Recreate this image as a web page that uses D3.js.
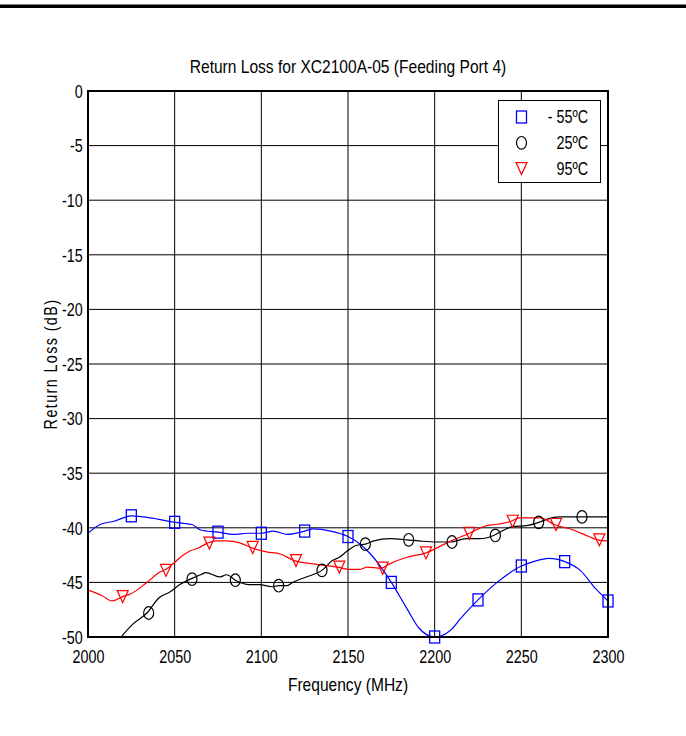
<!DOCTYPE html>
<html><head><meta charset="utf-8">
<script src="https://cdn.jsdelivr.net/npm/d3@7"></script>
<style>body{margin:0;background:#fff}</style>
</head><body><div id="chart"></div>
<script>
// ---- data ----
const chartTitle = "Return Loss for XC2100A-05 (Feeding Port 4)";
const xLabel = "Frequency (MHz)";
const yLabel = "Return Loss (dB)";
const xTicks = [2000, 2050, 2100, 2150, 2200, 2250, 2300];
const yTicks = [0, -5, -10, -15, -20, -25, -30, -35, -40, -45, -50];
const seriesNames = ["- 55ºC", "25ºC", "95ºC"];

// -55 C (blue) curve
const freqM55 = [2000,2007,2015,2025,2032,2040,2050,2060,2065,2075,2084,2092,2100,2107,2115,2125,2130,2140,2150,2157,2163,2175,2184,2191,2200,2209,2215,2225,2236,2250,2257,2266,2275,2284,2293,2300];
const valM55  = [-40.5,-39.7,-39.4,-38.9,-39.0,-39.2,-39.5,-39.7,-40.2,-40.4,-40.6,-40.5,-40.5,-40.3,-40.6,-40.3,-40.1,-40.3,-40.8,-41.5,-42.4,-45.0,-47.4,-49.2,-50.0,-49.4,-48.3,-46.6,-45.0,-43.5,-43.1,-42.8,-43.1,-43.9,-45.6,-46.7];
const markFreqM55 = [2025,2050,2075,2100,2125,2150,2175,2200,2225,2250,2275,2300];
const markValM55  = [-38.9,-39.5,-40.4,-40.5,-40.3,-40.8,-45.0,-50.0,-46.6,-43.5,-43.1,-46.7];

// 25 C (black) curve
const freq25 = [2018,2026,2034,2041,2047,2053,2059,2065,2068,2076,2080,2085,2093,2099,2106,2110,2115,2118,2126,2135,2141,2145,2149,2155,2160,2165,2174,2184,2191,2201,2209,2218,2226,2234,2240,2245,2253,2260,2265,2272,2285,2300];
const val25  = [-50.2,-48.8,-47.8,-46.4,-45.9,-45.2,-44.7,-44.3,-44.1,-44.5,-44.3,-44.8,-45.2,-45.2,-45.4,-45.3,-45.3,-45.0,-44.5,-43.9,-43.0,-42.7,-42.2,-41.6,-41.5,-41.2,-41.0,-41.1,-41.2,-41.3,-41.3,-41.0,-41.0,-40.7,-40.2,-39.9,-39.8,-39.5,-39.2,-39.0,-39.0,-39.0];
const markFreq25 = [2035,2060,2085,2110,2135,2160,2185,2210,2235,2260,2285];
const markVal25  = [-47.8,-44.7,-44.8,-45.3,-43.9,-41.5,-41.1,-41.3,-40.7,-39.5,-39.0];

// 95 C (red) curve
const freq95 = [2000,2008,2014,2020,2024,2034,2041,2045,2049,2055,2059,2063,2069,2074,2080,2088,2094,2103,2111,2119,2130,2144,2151,2157,2161,2169,2174,2184,2195,2203,2211,2220,2230,2235,2244,2249,2261,2269,2280,2289,2294,2300];
const val95  = [-45.7,-46.2,-46.7,-46.3,-46.1,-45.0,-44.1,-43.8,-43.3,-42.5,-42.1,-41.9,-41.4,-41.2,-41.2,-41.4,-41.8,-42.2,-42.4,-43.0,-43.3,-43.6,-43.8,-43.8,-43.6,-43.7,-43.3,-42.7,-42.3,-41.7,-41.1,-40.5,-39.8,-39.7,-39.4,-39.1,-39.1,-39.7,-40.2,-40.8,-41.1,-41.2];
const markFreq95 = [2020,2045,2070,2095,2120,2145,2170,2195,2220,2245,2270,2295];
const markVal95  = [-46.3,-43.9,-41.4,-41.8,-43.0,-43.6,-43.7,-42.3,-40.5,-39.4,-39.7,-41.1];

// ---- drawing ----
const W = 686, H = 736;
const FS = 17.5, SX = 0.82, SXT = 0.89, FONT = "'Liberation Sans', Arial, sans-serif";
const svg = d3.select("#chart").append("svg").attr("width", W).attr("height", H)
  .style("background", "#fff").attr("font-family", FONT);

const x = d3.scaleLinear().domain([2000, 2300]).range([88, 608]);
const y = d3.scaleLinear().domain([-50, 0]).range([637, 91]);

// top rule
svg.append("rect").attr("x", 0).attr("y", 4.5).attr("width", W).attr("height", 3.5).attr("fill", "#000");

// grid
const grid = svg.append("g").attr("stroke", "#000").attr("stroke-width", 1);
grid.selectAll("line.v").data(xTicks).join("line").attr("class", "v")
  .attr("x1", d => x(d)).attr("x2", d => x(d)).attr("y1", y(0)).attr("y2", y(-50));
grid.selectAll("line.h").data(yTicks).join("line").attr("class", "h")
  .attr("x1", x(2000)).attr("x2", x(2300)).attr("y1", d => y(d)).attr("y2", d => y(d));

// axes
const fmt = d => String(d);
const gx = svg.append("g").attr("transform", `translate(0,${y(-50)})`)
  .call(d3.axisBottom(x).tickValues(xTicks).tickSize(0).tickFormat(fmt));
gx.select(".domain").remove();
gx.selectAll("text").attr("y", 26).attr("dy", 0).attr("font-size", FS)
  .attr("font-family", FONT).attr("fill", "#000").attr("transform", `scale(${SX},1)`);

const gy = svg.append("g").attr("transform", `translate(${x(2000)},0)`)
  .call(d3.axisLeft(y).tickValues(yTicks).tickSize(0).tickFormat(fmt));
gy.select(".domain").remove();
gy.selectAll("text").attr("x", -6.5).attr("dy", "0.36em").attr("font-size", FS)
  .attr("font-family", FONT).attr("fill", "#000").attr("transform", `scale(${SX},1)`);

// clip
svg.append("clipPath").attr("id", "clip").append("rect")
  .attr("x", x(2000)).attr("y", y(0)).attr("width", x(2300) - x(2000)).attr("height", y(-50) - y(0));

const series = [
  {f: freqM55, v: valM55, mf: markFreqM55, mv: markValM55, color: "#0000ff", shape: "square"},
  {f: freq25, v: val25, mf: markFreq25, mv: markVal25, color: "#000000", shape: "circle"},
  {f: freq95, v: val95, mf: markFreq95, mv: markVal95, color: "#ff0000", shape: "tri"}
];

const line = d3.line().x(d => x(d[0])).y(d => y(d[1])).curve(d3.curveMonotoneX);

function drawMarker(g, shape, color) {
  if (shape === "square") {
    g.append("rect").attr("x", -5).attr("y", -6).attr("width", 10).attr("height", 12)
      .attr("fill", "none").attr("stroke", color).attr("stroke-width", 1.3);
  } else if (shape === "circle") {
    g.append("ellipse").attr("rx", 5).attr("ry", 6.3)
      .attr("fill", "none").attr("stroke", color).attr("stroke-width", 1.2);
  } else {
    g.append("path").attr("d", "M-5.5,-6L5.5,-6L0,6Z")
      .attr("fill", "none").attr("stroke", color).attr("stroke-width", 1.2);
  }
}

const plot = svg.append("g").attr("clip-path", "url(#clip)");
series.forEach(s => {
  const pts = s.f.map((f, i) => [f, s.v[i]]);
  plot.append("path").datum(pts).attr("d", line).attr("fill", "none")
    .attr("stroke", s.color).attr("stroke-width", 1.2);
});
const marks = svg.append("g");
series.forEach(s => {
  s.mf.forEach((f, i) => {
    const g = marks.append("g").attr("transform", `translate(${x(f)},${y(s.mv[i])})`);
    drawMarker(g, s.shape, s.color);
  });
});

// frame
svg.append("rect").attr("x", x(2000)).attr("y", y(0)).attr("width", x(2300) - x(2000))
  .attr("height", y(-50) - y(0)).attr("fill", "none").attr("stroke", "#000").attr("stroke-width", 2);

// legend
const lg = svg.append("g");
lg.append("rect").attr("x", 498.5).attr("y", 100.5).attr("width", 102).attr("height", 82)
  .attr("fill", "#fff").attr("stroke", "#000").attr("stroke-width", 1);
series.forEach((s, i) => {
  const cy = 117 + i * 25.8;
  const g = lg.append("g").attr("transform", `translate(521.5,${cy})`);
  drawMarker(g, s.shape, s.color);
  lg.append("text").attr("transform", `translate(588,${cy + 6.2}) scale(${SX},1)`)
    .attr("text-anchor", "end").attr("font-size", FS).text(seriesNames[i]);
});

// titles
svg.append("text").attr("transform", `translate(348,73) scale(${SXT},1)`)
  .attr("text-anchor", "middle").attr("font-size", FS).text(chartTitle);
svg.append("text").attr("transform", `translate(348,691) scale(${SXT},1)`)
  .attr("text-anchor", "middle").attr("font-size", FS).text(xLabel);
svg.append("text").attr("transform", `translate(57,364) rotate(-90) scale(${SX},1)`)
  .attr("text-anchor", "middle").attr("font-size", FS).attr("letter-spacing", "1.7px").text(yLabel);
</script>
</body></html>
